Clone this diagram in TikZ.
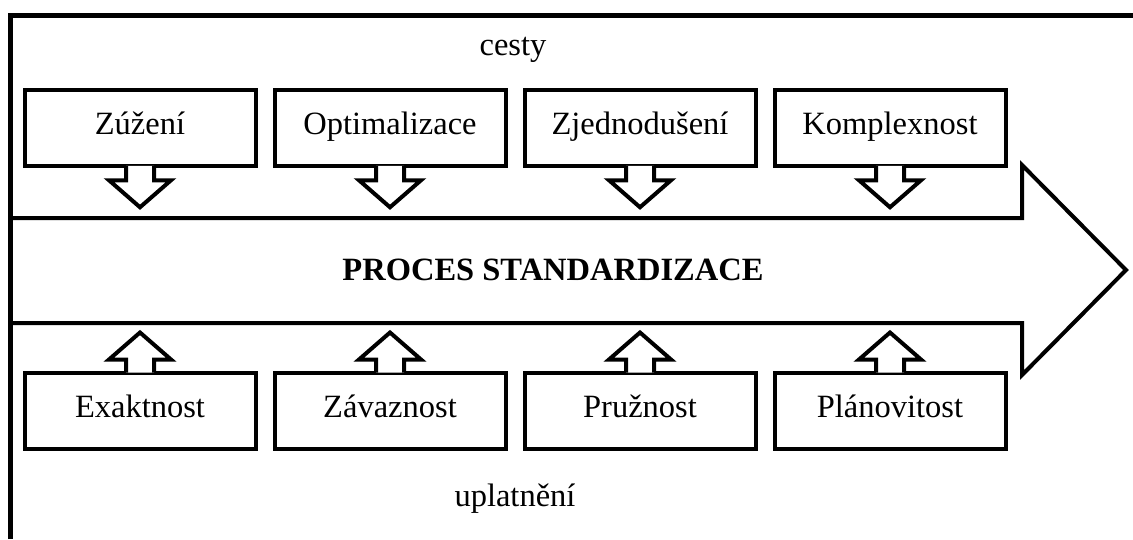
\documentclass[tikz,border=0pt]{standalone}
\usepackage{fontspec}
\setmainfont{Liberation Serif}
\usetikzlibrary{positioning}

\begin{document}
\begin{tikzpicture}[
  x=1pt, y=-1pt,
  line width=4pt,
  font=\fontsize{32.5}{39}\selectfont,
  box/.style={draw, minimum width=231pt, minimum height=76pt, inner sep=0pt,
              text height=21pt, text depth=7pt},
  callout/.style={draw, fill=white},
  frame/.style={draw, line width=5pt}
]
  \useasboundingbox (0,0) rectangle (1133,539);

  \draw[frame] (10,539) -- (10,15) -- (1133,15);

  \node[anchor=base] (cesty) at (513,55) {cesty};
  \node[anchor=base] (uplatneni) at (515,506) {uplatnění};

  \draw (10,218) -- (1022,218) -- (1022,165) -- (1126,270) -- (1022,375) -- (1022,323) -- (10,323);
  \node[font=\fontsize{32.5}{39}\selectfont\bfseries] (proces) at (553,270) {PROCES STANDARDIZACE};

  \foreach \n/\t/\cx in {zuzeni/Zúžení/140, optim/Optimalizace/390,
                         zjedn/Zjednodušení/640, komplex/Komplexnost/890} {
    \node[box] (\n) at (\cx,127.75) {\t};
    \filldraw[callout] ([xshift=-14pt,yshift=2pt]\n.south) -- ++(0,14.5) -- ++(-17,0)
      -- ++(31,27) -- ++(31,-27) -- ++(-17,0) -- ++(0,-14.5);
  }

  \foreach \n/\t/\cx in {exakt/Exaktnost/140, zavaz/Závaznost/390,
                         pruz/Pružnost/640, planov/Plánovitost/890} {
    \node[box] (\n) at (\cx,410.5) {\t};
    \filldraw[callout] ([xshift=-14pt,yshift=-2pt]\n.north) -- ++(0,-13) -- ++(-17,0)
      -- ++(31,-27) -- ++(31,27) -- ++(-17,0) -- ++(0,13);
  }
\end{tikzpicture}
\end{document}
